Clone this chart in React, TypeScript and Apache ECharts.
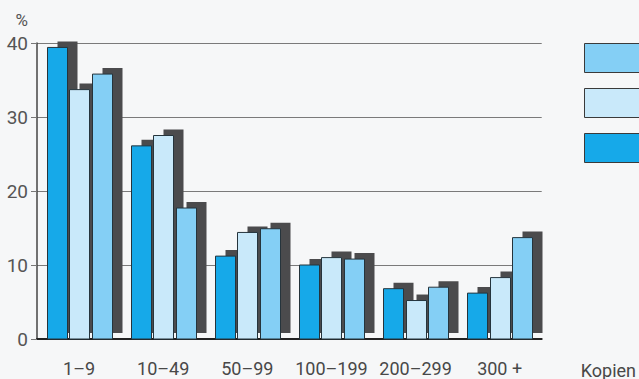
import React, { useEffect, useRef } from "react";
import * as echarts from "echarts";

// Auflagengrößen (Kopien pro Auftrag)
const categories = ["1–9", "10–49", "50–99", "100–199", "200–299", "300 +"];

// Anteile in Prozent je Reihe
const seriesNames = ["Reihe 1", "Reihe 2", "Reihe 3"];
const valuesA = [39.4, 26.1, 11.2, 10.0, 6.8, 6.2];
const valuesB = [33.7, 27.5, 14.4, 11.0, 5.2, 8.3];
const valuesC = [35.8, 17.7, 14.9, 10.8, 7.0, 13.7];

const yTicks = [0, 10, 20, 30, 40];

const COLORS = ["#16a9e9", "#c9e9fa", "#84cff5"];
const SHADOW = "#4b4b4d";
const EDGE = "#25343c";
const BAR_W = 20;
const BAR_STEP = 22.5;
const SH_DX = 10;
const SH_DY = -6;

function makeRenderer(slot: number, color: string) {
  return (_params: any, api: any) => {
    const idx = api.value(0);
    const val = api.value(1);
    const base = api.coord([idx, 0]);
    const top = api.coord([idx, val]);
    const cx = base[0] + (slot - 1) * BAR_STEP;
    const x = Math.round(cx - BAR_W / 2) + 0.5;
    const h = base[1] - top[1];
    return {
      type: "group",
      children: [
        {
          type: "rect",
          shape: { x: x + SH_DX, y: top[1] + SH_DY, width: BAR_W, height: h },
          style: { fill: SHADOW },
        },
        {
          type: "rect",
          shape: { x, y: top[1], width: BAR_W, height: h },
          style: { fill: color, stroke: EDGE, lineWidth: 1 },
        },
      ],
    };
  };
}

export default function App() {
  const ref = useRef<HTMLDivElement>(null);

  useEffect(() => {
    if (!ref.current) return;
    const chart = echarts.init(ref.current, undefined, { renderer: "svg" });
    const all = [valuesA, valuesB, valuesC];
    const font = "Roboto, 'Liberation Sans', sans-serif";

    chart.setOption({
      animation: false,
      backgroundColor: "#f6f7f8",
      grid: { left: 37, right: 93, top: 43, bottom: 40, containLabel: false },
      legend: {
        orient: "vertical",
        left: 584,
        top: 43,
        padding: 0,
        itemWidth: 60,
        itemHeight: 29,
        itemGap: 15,
        icon: "rect",
        selectedMode: false,
        data: [seriesNames[2], seriesNames[1], seriesNames[0]],
        formatter: () => "",
        itemStyle: { borderColor: "#3a3a3a", borderWidth: 1 },
      },
      xAxis: {
        type: "category",
        data: categories,
        name: "Kopien",
        nameLocation: "end",
        nameGap: 39,
        nameTextStyle: {
          fontFamily: font,
          fontSize: 18,
          color: "#484848",
          verticalAlign: "top",
          padding: [22, 0, 0, 0],
        },
        axisLine: { lineStyle: { color: "#222", width: 2 } },
        axisTick: { show: false },
        axisLabel: {
          interval: 0,
          fontFamily: font,
          fontSize: 18,
          color: "#484848",
          margin: 20,
        },
      },
      yAxis: {
        type: "value",
        min: yTicks[0],
        max: yTicks[yTicks.length - 1],
        interval: 10,
        name: "%",
        nameLocation: "end",
        nameGap: 15,
        nameTextStyle: {
          fontFamily: font,
          fontSize: 17,
          color: "#555",
          align: "right",
          padding: [0, 9, 0, 0],
        },
        axisLine: { show: true, lineStyle: { color: "#444", width: 1.5 } },
        axisTick: { show: true, length: 6, lineStyle: { color: "#777" } },
        axisLabel: {
          fontFamily: font,
          fontSize: 19,
          color: "#555",
          margin: 9,
          padding: [14, 0, 0, 0],
        },
        splitLine: { lineStyle: { color: "#7a7a7a", width: 1 } },
      },
      series: all.map((vals, s) => ({
        type: "custom",
        name: seriesNames[s],
        itemStyle: { color: COLORS[s] },
        encode: { x: 0, y: 1 },
        data: vals.map((v, i) => [i, v]),
        renderItem: makeRenderer(s, COLORS[s]),
        z: 2 + s,
      })),
    });

    return () => chart.dispose();
  }, []);

  return <div ref={ref} style={{ width: 639, height: 379, position: "absolute", left: 0, top: 0 }} />;
}
